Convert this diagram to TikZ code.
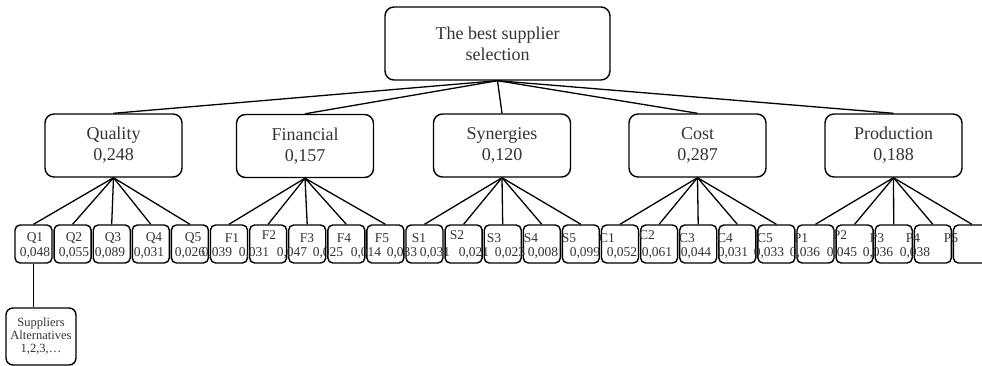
\documentclass[tikz,border=0pt]{standalone}
\usepackage{fontspec}
\setmainfont{Liberation Serif}
\definecolor{txtgray}{HTML}{333333}
\begin{document}
\begin{tikzpicture}[x=1pt,y=-1pt,
  bigbox/.style={draw, line width=1.4pt, rounded corners=9pt, fill=white, align=center,
    text=txtgray, font=\fontsize{18}{21}\selectfont, inner sep=0pt},
  sbox/.style={draw, line width=1.4pt, rounded corners=5pt, fill=white,
    minimum width=37pt, minimum height=38pt, inner sep=0pt},
  lbl/.style={anchor=base, text=txtgray, font=\fontsize{13.5}{14}\selectfont, inner sep=0pt},
  conn/.style={line width=1.3pt}]
\useasboundingbox (0,0) rectangle (982,366);

% top
\node[bigbox, minimum width=225pt, minimum height=73pt] (top) at (497.5,43.5)
  {The best supplier\\selection};

% criteria
\node[bigbox, minimum width=137pt, minimum height=63pt] (quality) at (113.5,145.5) {Quality\\0,248};
\node[bigbox, minimum width=137pt, minimum height=63pt] (financial) at (305,146) {Financial\\0,157};
\node[bigbox, minimum width=137pt, minimum height=63pt] (synergies) at (502,145.5) {Synergies\\0,120};
\node[bigbox, minimum width=137pt, minimum height=63pt] (cost) at (697.5,145.5) {Cost\\0,287};
\node[bigbox, minimum width=137pt, minimum height=63pt] (production) at (893.5,145.5) {Production\\0,188};

% sub-criteria boxes
\foreach \n [count=\i from 0] in {Q1,Q2,Q3,Q4,Q5,F1,F2,F3,F4,F5,S1,S2,S3,S4,S5,C1,C2,C3,C4,C5,P1,P2,P3,P4,P5}
  \node[sbox] (b\n) at ({33.5+39.1*\i},244) {};

% suppliers box
\node[bigbox, rounded corners=7pt, minimum width=70pt, minimum height=57pt,
  font=\fontsize{12.5}{13}\selectfont] (sup) at (41,336.5) {Suppliers\\Alternatives\\1,2,3,\dots};

% connectors
\foreach \c in {quality,financial,synergies,cost,production}
  \draw[conn] (top.south) -- (\c.north);
\foreach \c/\a/\b/\d/\e/\f in {quality/Q1/Q2/Q3/Q4/Q5, financial/F1/F2/F3/F4/F5,
    synergies/S1/S2/S3/S4/S5, cost/C1/C2/C3/C4/C5, production/P1/P2/P3/P4/P5}
  \foreach \k in {\a,\b,\d,\e,\f}
    \draw[conn] (\c.south) -- (b\k.north);
\draw[conn] (bQ1.south) -- (bQ1.south |- sup.north);

% labels
\foreach \t/\x/\y [count=\j] in {Q1/35/241,Q2/74/241,Q3/113/241,Q4/154/241,Q5/193/241,
  F1/232/242,F2/269/239,F3/307/242,F4/344/242,F5/382/242,
  S1/419/242,S2/457/239,S3/494/242,S4/531/242,S5/569/242,
  C1/607/242,C2/647/239,C3/687/242,C4/725/242,C5/765/242,
  P1/801/242,P2/840/239,P3/877/242,P4/913/242,P5/951/242}
  \node[lbl] (l\j) at (\x,\y) {\t};

% numbers
\foreach \t/\x [count=\j] in {{0,048}/35,{0,055}/74,{0,089}/110,{0,031}/149,{0,026}/190,
  {0,039}/217,{0,031}/254,{0,047}/292,{0,025}/328,{0,014}/366,
  {0,033}/402,{0,031}/435,{0,021}/474,{0,023}/510,{0,008}/543,
  {0,099}/585,{0,052}/622,{0,061}/657,{0,044}/696,{0,031}/733,
  {0,033}/769,{0,036}/805,{0,045}/842,{0,036}/878,{0,038}/915}
  \node[lbl] (v\j) at (\x,256) {\t};
\end{tikzpicture}
\end{document}
